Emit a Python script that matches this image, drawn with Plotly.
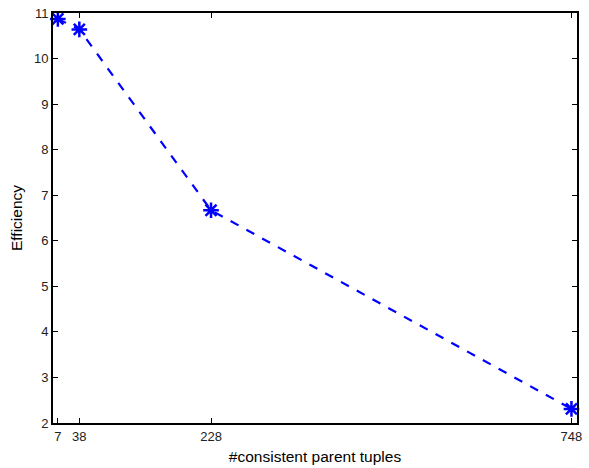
import plotly.graph_objects as go

x_vals = [7, 38, 228, 748]
efficiency = [10.87, 10.64, 6.67, 2.31]
x_ticks = [7, 38, 228, 748]
y_ticks = [2, 3, 4, 5, 6, 7, 8, 9, 10, 11]

fig = go.Figure()
fig.add_trace(go.Scatter(
    x=x_vals, y=efficiency, mode="lines+markers",
    line=dict(color="#0000ff", width=2.2, dash="dash"),
    marker=dict(symbol="asterisk-open", size=13, color="#0000ff",
                line=dict(color="#0000ff", width=2.5)),
    cliponaxis=False,
))

axis_common = dict(
    showline=True, linecolor="black", linewidth=2, mirror="ticks",
    ticks="inside", ticklen=5, tickcolor="black", tickwidth=1,
    showgrid=False, zeroline=False, automargin=False,
    tickfont=dict(family="Liberation Sans, Arial", size=13, color="#222"),
)

fig.update_layout(
    width=589, height=468,
    margin=dict(l=53, r=12, t=13, b=45, autoexpand=False),
    paper_bgcolor="white", plot_bgcolor="white",
    showlegend=False,
    xaxis=dict(range=[0, 756], tickvals=x_ticks, ticktext=[str(t) for t in x_ticks],
               title=dict(text="#consistent parent tuples", standoff=9,
                          font=dict(family="Liberation Sans, Arial", size=15.5, color="black")),
               **axis_common),
    yaxis=dict(range=[2, 11], tickvals=y_ticks,
               title=dict(text="Efficiency", standoff=8,
                          font=dict(family="Liberation Sans, Arial", size=15.5, color="black")),
               **axis_common),
)

fig.write_html("out.html")
